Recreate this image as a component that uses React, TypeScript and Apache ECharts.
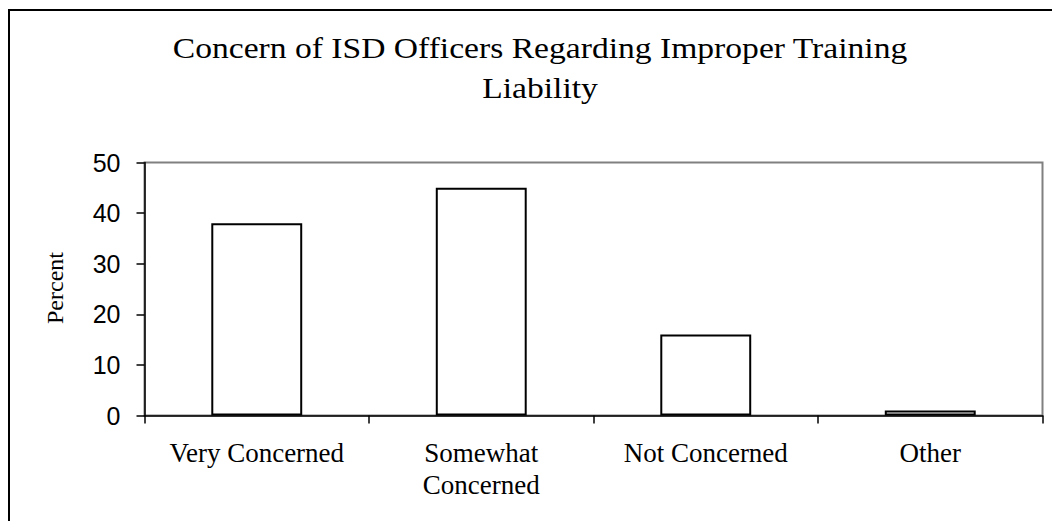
import React, { useEffect, useRef } from "react";
import * as echarts from "echarts";

const categories = ["Very Concerned", "Somewhat\nConcerned", "Not Concerned", "Other"];
const percentValues = [38, 45, 16, 1];
const yTicks = [0, 10, 20, 30, 40, 50];
const titleLines = ["Concern of ISD Officers Regarding Improper Training", "Liability"];
const yAxisName = "Percent";

export default function App() {
  const ref = useRef<HTMLDivElement>(null);
  useEffect(() => {
    if (!ref.current) return;
    const chart = echarts.init(ref.current, null, { renderer: "svg" });
    const serif = "'Liberation Serif', 'Times New Roman', serif";
    const sans = "'Liberation Sans', Arial, sans-serif";
    chart.setOption({
      animation: false,
      backgroundColor: "#ffffff",
      graphic: [
        {
          type: "rect",
          shape: { x: 9, y: 10, width: 1200, height: 800 },
          style: { fill: "none", stroke: "#000000", lineWidth: 2 },
          silent: true,
        },
        {
          type: "text",
          x: 540,
          y: 48,
          scaleX: 1.12,
          style: {
            text: titleLines[0],
            font: `30px ${serif}`,
            fill: "#000",
            textAlign: "center",
            textVerticalAlign: "middle",
          },
        },
        {
          type: "text",
          x: 540,
          y: 88,
          scaleX: 1.12,
          style: {
            text: titleLines[1],
            font: `30px ${serif}`,
            fill: "#000",
            textAlign: "center",
            textVerticalAlign: "middle",
          },
        },
        {
          type: "text",
          x: 55,
          y: 288,
          rotation: Math.PI / 2,
          style: {
            text: yAxisName,
            font: `24px ${serif}`,
            fill: "#000",
            textAlign: "center",
            textVerticalAlign: "middle",
          },
        },
      ],
      grid: {
        left: 144.5,
        right: 9.5,
        top: 162.5,
        bottom: 105.5,
        show: true,
        borderColor: "#808080",
        borderWidth: 2,
        backgroundColor: "transparent",
      },
      xAxis: {
        type: "category",
        data: categories,
        axisLine: { show: true, lineStyle: { color: "#000", width: 1.5 } },
        axisTick: { show: true, alignWithLabel: false, length: 8, lineStyle: { color: "#000", width: 1.5 } },
        axisLabel: {
          interval: 0,
          margin: 21,
          color: "#000",
          fontFamily: serif,
          fontSize: 27,
          lineHeight: 32,
        },
        splitLine: { show: false },
      },
      yAxis: {
        type: "value",
        min: yTicks[0],
        max: yTicks[yTicks.length - 1],
        interval: 10,
        axisLine: { show: true, lineStyle: { color: "#000", width: 1.5 } },
        axisTick: { show: true, length: 8, lineStyle: { color: "#000", width: 1.5 } },
        axisLabel: {
          margin: 24,
          color: "#000",
          fontFamily: sans,
          fontSize: 25,
        },
        splitLine: { show: false },
      },
      series: [
        {
          type: "bar",
          data: percentValues,
          barWidth: "40.5%",
          itemStyle: { color: "#ffffff", borderColor: "#000000", borderWidth: 2 },
        },
      ],
    });
    return () => chart.dispose();
  }, []);
  return (
    <div
      ref={ref}
      style={{ position: "fixed", left: 0, top: 0, width: 1052, height: 521, background: "#fff" }}
    />
  );
}
